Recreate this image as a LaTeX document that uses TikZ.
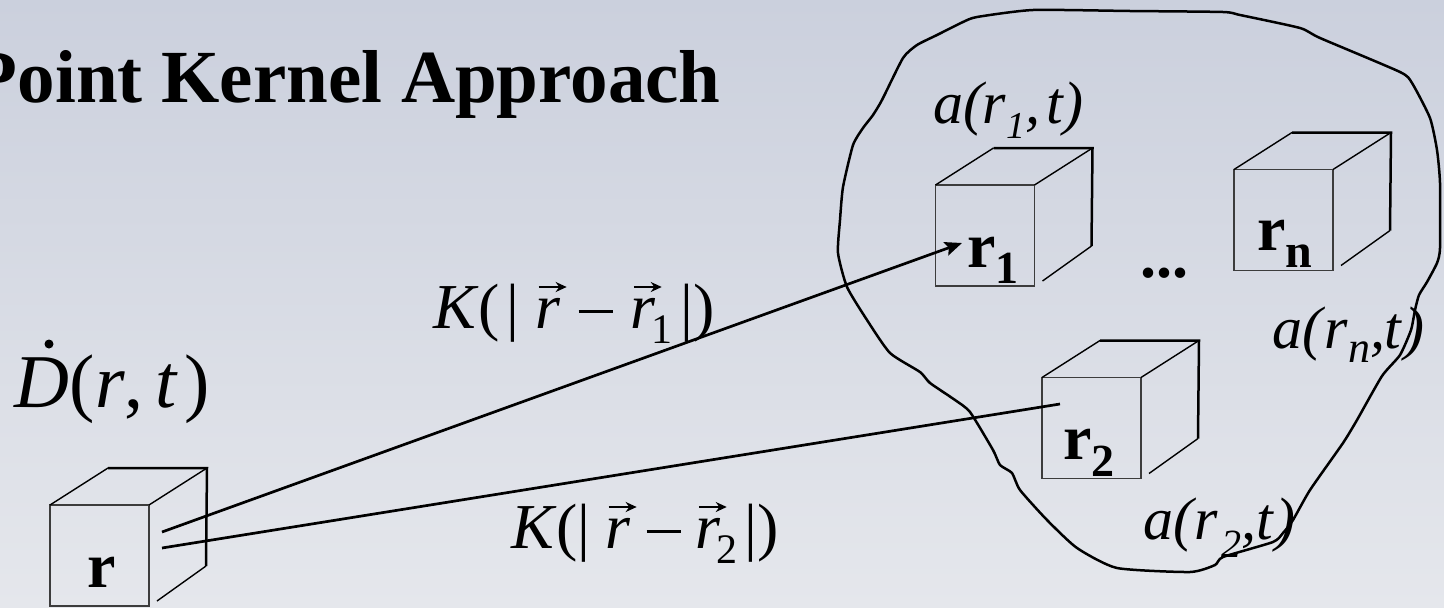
\documentclass[tikz,border=0pt]{standalone}
\usepackage{fontspec}
\setmainfont{Liberation Serif}
\usetikzlibrary{arrows.meta,calc}
\definecolor{bgtop}{RGB}{203,208,221}
\definecolor{bgbot}{RGB}{229,231,236}
\definecolor{facegray}{RGB}{60,60,60}
\newcommand\vecr{\makebox[0pt][l]{\hspace{2pt}\raisebox{41pt}{\tikz[baseline=0pt]\draw[line width=2.2pt,-{Stealth[length=11pt,width=10pt]}] (0pt,0pt) -- (28pt,0pt);}}\textit{r}}
\newcommand\mminus{\rule[15.5pt]{34pt}{3pt}}
\newcommand\drawcube[2]{%
  \node[face] (#1) at (#2) {};
  \draw[cubeedge] (#1.north west) -- ++(58,-37) coordinate (#1bnw);
  \draw[cubeedge] (#1.north east) -- ++(58,-37) coordinate (#1bne);
  \draw[backedge] (#1bnw) -- (#1bne) -- ($(#1.south east)+(57,-40)$) coordinate (#1bse);
  \draw[cubeedge] ($(#1.south east)+(8,-5)$) -- (#1bse);
}
\tikzset{
  face/.style={draw=facegray, line width=1.4pt, minimum width=99pt, minimum height=101pt, inner sep=0pt, outer sep=0pt},
  cubeedge/.style={line width=1.4pt},
  backedge/.style={line width=2.5pt},
  conn/.style={line width=2.7pt},
  blob/.style={line width=2.5pt, line join=round},
  lab/.style={anchor=base west, inner sep=0pt, outer sep=0pt},
  bigbold/.style={font=\fontsize{64}{64}\selectfont\bfseries},
  ital/.style={font=\fontsize{60}{60}\selectfont\itshape},
  mathlab/.style={font=\fontsize{64}{64}\selectfont}
}
\begin{document}
\begin{tikzpicture}[x=1pt,y=-1pt]
\useasboundingbox (0,0) rectangle (1444,608);
\fill[top color=bgtop, bottom color=bgbot] (0,0) rectangle (1444,608);

% title
\node[lab, font=\fontsize{75}{75}\selectfont\bfseries] (title) at (-28,102) {Point Kernel Approach};

% region outline
\draw[blob] plot[smooth cycle, tension=0.35] coordinates {
 (840,220) (843,187) (853,145) (863,128) (873,115) (882,100) (903,58) (917,45)
 (937,35) (963,22) (977,17) (1033,10) (1130,11) (1223,12) (1240,15) (1300,28)
 (1320,38) (1400,72) (1412,83) (1430,118) (1437,150) (1440,183) (1440,248)
 (1437,263) (1427,282) (1419,295) (1415,310) (1411,330) (1400,355) (1382,376)
 (1357,420) (1343,443) (1310,490) (1293,520) (1283,533) (1273,542) (1223,557)
 (1215,565) (1190,572) (1117,568) (1077,548) (1047,520) (1020,490) (1012,473)
 (1000,465) (993,450) (970,412) (955,400) (930,383) (920,372) (890,353)
 (867,320) (847,287) (838,253)};

% cubes
\drawcube{cr}{99.5,555.5}
\drawcube{cone}{985,235.5}
\drawcube{cn}{1283.5,220}
\drawcube{ctwo}{1091.5,428}

% cube labels
\node[lab, bigbold] (lr) at (87,587) {r};
\node[lab, bigbold] (lrone) at (967,267) {r\raisebox{-16pt}{\fontsize{46}{46}\selectfont 1}};
\node[lab, bigbold] (lrn) at (1257,250) {r\raisebox{-17pt}{\fontsize{48}{48}\selectfont n}};
\node[lab, bigbold] (lrtwo) at (1063,459) {r\raisebox{-17pt}{\fontsize{46}{46}\selectfont 2}};
\node[lab, bigbold] (dots) at (1140,277) {...};

% activity labels
\node[lab, ital] (aone) at (933,123) {a(r\raisebox{-15pt}{\fontsize{38}{38}\selectfont 1},\hspace{6pt}t)};
\node[lab, ital] (an) at (1272,348) {a(\hspace{3pt}r\raisebox{-14pt}{\fontsize{44}{44}\selectfont n},\hspace{-1pt}t\hspace{3pt})};
\node[lab, ital] (atwo) at (1143,539) {a(\hspace{2pt}r\hspace{3pt}\raisebox{-18pt}{\fontsize{40}{40}\selectfont 2},t\hspace{2pt})};

% dose rate label
\node[lab, font=\fontsize{76}{76}\selectfont] (dlab) at (15,407) {\textit{D}(\textit{r},\hspace{12pt}\textit{t}\hspace{6pt})};
\fill (49,344) circle (4.5);

% kernel labels
\node[lab, mathlab] (kone) at (433,328) {\textit{K}(\hspace{7pt}|\hspace{16pt}\vecr\hspace{18pt}\mminus\hspace{18pt}\vecr\hspace{-4pt}\raisebox{-15pt}{\fontsize{42}{42}\selectfont 1}\hspace{8pt}|)};
\node[lab, mathlab] (ktwo) at (511,548) {\textit{K}(|\hspace{15pt}\vecr\hspace{16pt}\mminus\hspace{15pt}\vecr\hspace{-4pt}\raisebox{-15pt}{\fontsize{42}{42}\selectfont 2}\hspace{7pt}|)};

% connectors
\coordinate (sone) at (162,532);
\coordinate (stwo) at (162,548);
\coordinate (eone) at (962,243);
\coordinate (etwo) at (1060,404);
\draw[conn, -{Stealth[length=17pt,width=14pt,inset=3pt]}] (sone) -- (eone);
\draw[conn] (stwo) -- (etwo);
\end{tikzpicture}
\end{document}
